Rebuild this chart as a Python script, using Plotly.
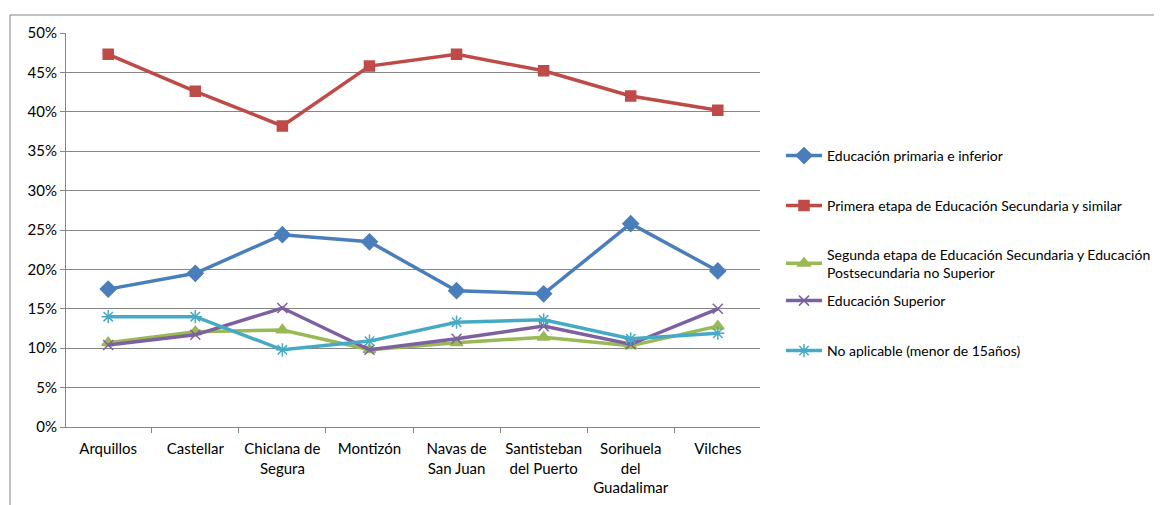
import plotly.graph_objects as go

categories = ["Arquillos", "Castellar", "Chiclana de<br>Segura", "Montizón", "Navas de<br>San Juan",
              "Santisteban<br>del Puerto", "Sorihuela<br>del<br>Guadalimar", "Vilches"]

primaria = [0.175, 0.195, 0.244, 0.235, 0.173, 0.169, 0.258, 0.198]
primera_etapa = [0.473, 0.426, 0.382, 0.458, 0.473, 0.452, 0.420, 0.402]
segunda_etapa = [0.107, 0.121, 0.123, 0.098, 0.107, 0.114, 0.103, 0.128]
superior = [0.104, 0.117, 0.151, 0.098, 0.112, 0.128, 0.105, 0.150]
no_aplicable = [0.140, 0.140, 0.098, 0.109, 0.133, 0.136, 0.112, 0.119]

series = [
    ("Educación primaria e inferior", primaria, "#4A7EBB", "diamond", 12),
    ("Primera etapa de Educación Secundaria y similar", primera_etapa, "#BE4B48", "square", 10),
    ("Segunda etapa de Educación Secundaria y Educación<br>Postsecundaria no Superior", segunda_etapa, "#98B954", "triangle-up", 11),
    ("Educación Superior", superior, "#7D60A0", "x-thin-open", 10),
    ("No aplicable (menor de 15años)", no_aplicable, "#46AAC5", "asterisk-open", 11),
]
legend_centers = [156, 206, 263.5, 301, 351]  # page y of each legend entry centre

FONT = "Lato"
OFF = 8
L, T, R, B = 58, 25, 410, 86
PW, PH = 1162 - L - R, 505 - T - B

fig = go.Figure()
layout_legends = {}
for i, (name, vals, color, sym, size) in enumerate(series):
    lg = "legend" if i == 0 else f"legend{i+1}"
    fig.add_trace(go.Scatter(
        x=categories, y=vals, name=name, mode="lines+markers",
        legend=lg,
        line=dict(color=color, width=3.5),
        marker=dict(symbol=sym, size=size, color=color,
                    line=dict(color=color, width=1.5)),
    ))
    yc = legend_centers[i] - OFF
    layout_legends[lg] = dict(
        x=(786 - OFF - 5 - L) / PW, y=(T + PH - yc) / PH,
        xanchor="left", yanchor="middle",
        font=dict(family=FONT, size=14, color="#000000"),
        itemwidth=36, bgcolor="rgba(0,0,0,0)", borderwidth=0,
    )

fig.update_layout(
    width=1162, height=505,
    paper_bgcolor="white", plot_bgcolor="white",
    margin=dict(l=L, r=R, t=T, b=B, autoexpand=False),
    font=dict(family=FONT, size=14, color="#000000"),
    showlegend=True,
    xaxis=dict(type="category", showgrid=False, showline=True, linecolor="#868686",
               linewidth=1, ticks="outside", ticklen=5, tickcolor="#868686",
               tickson="boundaries", tickfont=dict(size=15, family=FONT),
               tickangle=0, automargin=False,
               ticklabelstandoff=8, fixedrange=True),
    yaxis=dict(range=[0, 0.5], dtick=0.05, tickformat=".0%", showgrid=True,
               gridcolor="#868686", gridwidth=1, showline=True, linecolor="#868686",
               ticks="outside", ticklen=5, tickcolor="#868686", zeroline=False,
               automargin=False, tickfont=dict(size=15, family=FONT)),
    **layout_legends,
)

ytop = (PH + T - 7) / PH
xleft = (2 - L) / PW
fig.add_shape(type="line", xref="paper", yref="paper",
              x0=xleft, x1=1.7, y0=ytop, y1=ytop,
              line=dict(color="#868686", width=1))
fig.add_shape(type="line", xref="paper", yref="paper",
              x0=xleft, x1=xleft, y0=ytop, y1=-B / PH,
              line=dict(color="#868686", width=1))

fig.write_html("out.html")
